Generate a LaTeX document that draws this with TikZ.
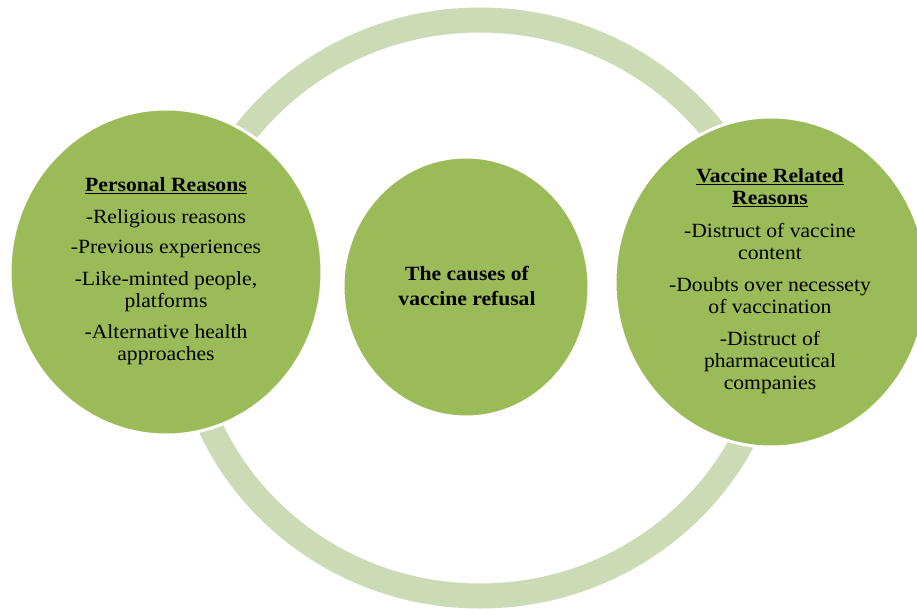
\documentclass[tikz,border=0pt]{standalone}
\usepackage{fontspec}
\setmainfont{Liberation Serif}[FakeStretch=1.07]
\usetikzlibrary{shapes.geometric}
\definecolor{leaf}{HTML}{9BBB59}
\definecolor{ringc}{HTML}{CCDAB6}
\tikzset{
  blob/.style={ellipse, fill=leaf, draw=white, line width=3pt, inner sep=0pt},
  ringstyle/.style={ellipse, draw=ringc, line width=25pt, inner sep=0pt},
  txt/.style={align=center, font=\fontsize{20.2}{22}\selectfont, text=black}
}
\begin{document}
\begin{tikzpicture}[x=1pt,y=-1pt]
\useasboundingbox (0,0) rectangle (917,609);
\node[ringstyle, minimum width=592pt, minimum height=576pt] (ring) at (480,308) {};
\node[blob, minimum width=312pt, minimum height=326pt] (left) at (166,272) {};
\node[blob, minimum width=246pt, minimum height=260pt] (mid) at (466,287) {};
\node[blob, minimum width=312pt, minimum height=330pt] (right) at (771,282) {};
\node[txt] (lt) at (166,271) {\textbf{\underline{Personal Reasons}}\\[10pt]
-Religious reasons\\[8.5pt]
-Previous experiences\\[9.5pt]
-Like-minted people,\\ platforms\\[9pt]
-Alternative health\\ approaches};
\node[txt, font=\fontsize{20.2}{25}\selectfont\bfseries] (mt) at (467,286) {The causes of\\ vaccine refusal};
\node[txt] (rt) at (770,281) {\textbf{\underline{Vaccine Related}}\\ \textbf{\underline{Reasons}}\\[10.5pt]
-Distruct of vaccine\\ content\\[10pt]
-Doubts over necessety\\ of vaccination\\[10pt]
-Distruct of\\ pharmaceutical\\ companies};
\end{tikzpicture}
\end{document}
